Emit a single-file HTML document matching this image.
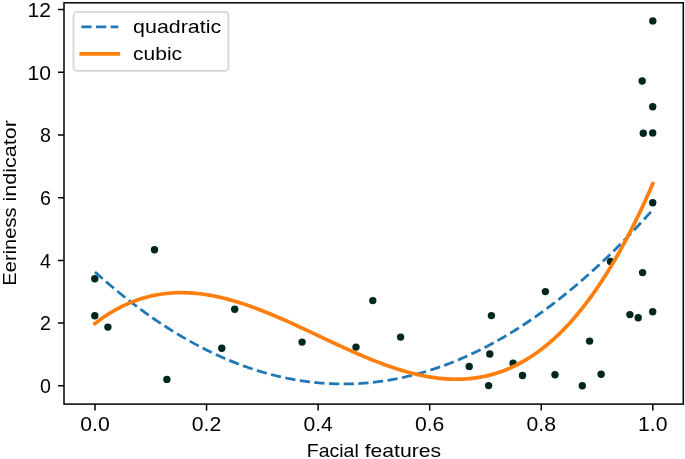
<!DOCTYPE html>
<html><head><meta charset="utf-8"><title>Eeriness vs facial features</title>
<style>html,body{margin:0;padding:0;background:#fff;}body{width:685px;height:459px;overflow:hidden;font-family:"Liberation Sans",sans-serif;}svg{display:block;will-change:transform;}</style>
</head><body>
<svg width="685" height="459" viewBox="0 0 685 459" font-family='"Liberation Sans", sans-serif' font-size="19.00" fill="#000"><g fill="#00271f"><circle cx="94.80" cy="278.80" r="3.70"/><circle cx="94.80" cy="315.70" r="3.70"/><circle cx="107.90" cy="327.10" r="3.70"/><circle cx="154.50" cy="249.70" r="3.70"/><circle cx="166.90" cy="379.40" r="3.70"/><circle cx="221.80" cy="348.20" r="3.70"/><circle cx="234.70" cy="309.20" r="3.70"/><circle cx="302.10" cy="342.10" r="3.70"/><circle cx="356.00" cy="347.10" r="3.70"/><circle cx="372.80" cy="300.60" r="3.70"/><circle cx="400.60" cy="337.10" r="3.70"/><circle cx="469.20" cy="366.40" r="3.70"/><circle cx="491.40" cy="315.60" r="3.70"/><circle cx="489.80" cy="354.00" r="3.70"/><circle cx="488.60" cy="385.60" r="3.70"/><circle cx="513.10" cy="363.20" r="3.70"/><circle cx="522.50" cy="375.50" r="3.70"/><circle cx="545.40" cy="291.60" r="3.70"/><circle cx="555.00" cy="374.80" r="3.70"/><circle cx="582.30" cy="385.70" r="3.70"/><circle cx="589.60" cy="341.10" r="3.70"/><circle cx="601.10" cy="374.20" r="3.70"/><circle cx="610.50" cy="261.50" r="3.70"/><circle cx="629.90" cy="314.60" r="3.70"/><circle cx="638.20" cy="317.80" r="3.70"/><circle cx="642.60" cy="272.60" r="3.70"/><circle cx="642.20" cy="81.00" r="3.70"/><circle cx="643.30" cy="133.30" r="3.70"/><circle cx="652.80" cy="20.90" r="3.70"/><circle cx="652.70" cy="106.70" r="3.70"/><circle cx="652.70" cy="132.90" r="3.70"/><circle cx="652.70" cy="202.80" r="3.70"/><circle cx="652.70" cy="311.80" r="3.70"/></g>
<path d="M95.00,271.92 L96.87,273.60 L98.73,275.26 L100.60,276.92 L102.46,278.56 L104.33,280.18 L106.19,281.80 L108.06,283.40 L109.92,284.99 L111.79,286.56 L113.66,288.13 L115.52,289.68 L117.39,291.22 L119.25,292.74 L121.12,294.26 L122.98,295.76 L124.85,297.25 L126.71,298.72 L128.58,300.18 L130.45,301.63 L132.31,303.07 L134.18,304.49 L136.04,305.91 L137.91,307.31 L139.77,308.69 L141.64,310.07 L143.50,311.43 L145.37,312.78 L147.24,314.11 L149.10,315.43 L150.97,316.75 L152.83,318.04 L154.70,319.33 L156.56,320.60 L158.43,321.86 L160.29,323.11 L162.16,324.34 L164.03,325.57 L165.89,326.77 L167.76,327.97 L169.62,329.16 L171.49,330.33 L173.35,331.49 L175.22,332.63 L177.08,333.77 L178.95,334.89 L180.82,335.99 L182.68,337.09 L184.55,338.17 L186.41,339.24 L188.28,340.30 L190.14,341.34 L192.01,342.38 L193.87,343.40 L195.74,344.40 L197.61,345.40 L199.47,346.38 L201.34,347.35 L203.20,348.30 L205.07,349.25 L206.93,350.18 L208.80,351.10 L210.66,352.00 L212.53,352.90 L214.40,353.78 L216.26,354.64 L218.13,355.50 L219.99,356.34 L221.86,357.17 L223.72,357.99 L225.59,358.79 L227.45,359.58 L229.32,360.36 L231.19,361.13 L233.05,361.88 L234.92,362.62 L236.78,363.35 L238.65,364.07 L240.51,364.77 L242.38,365.46 L244.24,366.14 L246.11,366.80 L247.98,367.46 L249.84,368.10 L251.71,368.72 L253.57,369.34 L255.44,369.94 L257.30,370.53 L259.17,371.11 L261.03,371.67 L262.90,372.22 L264.77,372.76 L266.63,373.29 L268.50,373.80 L270.36,374.30 L272.23,374.79 L274.09,375.26 L275.96,375.73 L277.82,376.18 L279.69,376.61 L281.56,377.04 L283.42,377.45 L285.29,377.85 L287.15,378.24 L289.02,378.61 L290.88,378.97 L292.75,379.32 L294.61,379.66 L296.48,379.98 L298.35,380.29 L300.21,380.59 L302.08,380.87 L303.94,381.15 L305.81,381.41 L307.67,381.65 L309.54,381.89 L311.40,382.11 L313.27,382.32 L315.14,382.52 L317.00,382.70 L318.87,382.87 L320.73,383.03 L322.60,383.18 L324.46,383.31 L326.33,383.43 L328.19,383.54 L330.06,383.64 L331.93,383.72 L333.79,383.79 L335.66,383.85 L337.52,383.89 L339.39,383.92 L341.25,383.94 L343.12,383.95 L344.98,383.94 L346.85,383.93 L348.72,383.89 L350.58,383.85 L352.45,383.79 L354.31,383.73 L356.18,383.64 L358.04,383.55 L359.91,383.44 L361.77,383.32 L363.64,383.19 L365.51,383.05 L367.37,382.89 L369.24,382.72 L371.10,382.54 L372.97,382.34 L374.83,382.13 L376.70,381.91 L378.56,381.68 L380.43,381.43 L382.29,381.17 L384.16,380.90 L386.03,380.62 L387.89,380.32 L389.76,380.01 L391.62,379.69 L393.49,379.35 L395.35,379.01 L397.22,378.65 L399.08,378.27 L400.95,377.89 L402.82,377.49 L404.68,377.08 L406.55,376.66 L408.41,376.22 L410.28,375.77 L412.14,375.31 L414.01,374.84 L415.87,374.35 L417.74,373.85 L419.61,373.34 L421.47,372.81 L423.34,372.28 L425.20,371.73 L427.07,371.16 L428.93,370.59 L430.80,370.00 L432.66,369.40 L434.53,368.79 L436.40,368.16 L438.26,367.52 L440.13,366.87 L441.99,366.21 L443.86,365.53 L445.72,364.84 L447.59,364.14 L449.45,363.43 L451.32,362.70 L453.19,361.96 L455.05,361.21 L456.92,360.44 L458.78,359.66 L460.65,358.87 L462.51,358.07 L464.38,357.25 L466.24,356.43 L468.11,355.58 L469.98,354.73 L471.84,353.86 L473.71,352.99 L475.57,352.09 L477.44,351.19 L479.30,350.27 L481.17,349.34 L483.03,348.40 L484.90,347.45 L486.77,346.48 L488.63,345.50 L490.50,344.51 L492.36,343.50 L494.23,342.48 L496.09,341.45 L497.96,340.41 L499.82,339.35 L501.69,338.28 L503.56,337.20 L505.42,336.11 L507.29,335.00 L509.15,333.88 L511.02,332.75 L512.88,331.60 L514.75,330.45 L516.61,329.28 L518.48,328.09 L520.35,326.90 L522.21,325.69 L524.08,324.47 L525.94,323.23 L527.81,321.99 L529.67,320.73 L531.54,319.46 L533.40,318.17 L535.27,316.88 L537.14,315.57 L539.00,314.25 L540.87,312.91 L542.73,311.56 L544.60,310.20 L546.46,308.83 L548.33,307.45 L550.19,306.05 L552.06,304.64 L553.93,303.22 L555.79,301.78 L557.66,300.33 L559.52,298.87 L561.39,297.40 L563.25,295.91 L565.12,294.41 L566.98,292.90 L568.85,291.37 L570.72,289.84 L572.58,288.29 L574.45,286.72 L576.31,285.15 L578.18,283.56 L580.04,281.96 L581.91,280.35 L583.77,278.72 L585.64,277.08 L587.51,275.43 L589.37,273.77 L591.24,272.09 L593.10,270.40 L594.97,268.70 L596.83,266.99 L598.70,265.26 L600.56,263.52 L602.43,261.77 L604.30,260.00 L606.16,258.23 L608.03,256.44 L609.89,254.63 L611.76,252.82 L613.62,250.99 L615.49,249.15 L617.35,247.29 L619.22,245.43 L621.09,243.55 L622.95,241.66 L624.82,239.75 L626.68,237.84 L628.55,235.91 L630.41,233.96 L632.28,232.01 L634.14,230.04 L636.01,228.06 L637.88,226.07 L639.74,224.06 L641.61,222.05 L643.47,220.01 L645.34,217.97 L647.20,215.92 L649.07,213.85 L650.93,211.77 L652.80,209.67" fill="none" stroke="#1f77b4" stroke-width="2.77" stroke-dasharray="10.25 4.44" stroke-linecap="butt"/>
<path d="M95.00,323.55 L96.87,322.12 L98.73,320.72 L100.60,319.37 L102.46,318.05 L104.33,316.77 L106.19,315.53 L108.06,314.32 L109.92,313.15 L111.79,312.02 L113.66,310.92 L115.52,309.86 L117.39,308.83 L119.25,307.84 L121.12,306.89 L122.98,305.96 L124.85,305.07 L126.71,304.22 L128.58,303.40 L130.45,302.61 L132.31,301.86 L134.18,301.13 L136.04,300.44 L137.91,299.78 L139.77,299.16 L141.64,298.56 L143.50,297.99 L145.37,297.46 L147.24,296.95 L149.10,296.48 L150.97,296.03 L152.83,295.61 L154.70,295.23 L156.56,294.87 L158.43,294.54 L160.29,294.23 L162.16,293.96 L164.03,293.71 L165.89,293.49 L167.76,293.29 L169.62,293.12 L171.49,292.98 L173.35,292.86 L175.22,292.77 L177.08,292.70 L178.95,292.66 L180.82,292.64 L182.68,292.65 L184.55,292.68 L186.41,292.73 L188.28,292.81 L190.14,292.91 L192.01,293.03 L193.87,293.17 L195.74,293.34 L197.61,293.52 L199.47,293.73 L201.34,293.96 L203.20,294.21 L205.07,294.47 L206.93,294.76 L208.80,295.07 L210.66,295.40 L212.53,295.74 L214.40,296.11 L216.26,296.49 L218.13,296.89 L219.99,297.30 L221.86,297.74 L223.72,298.19 L225.59,298.66 L227.45,299.14 L229.32,299.64 L231.19,300.16 L233.05,300.69 L234.92,301.23 L236.78,301.80 L238.65,302.37 L240.51,302.96 L242.38,303.56 L244.24,304.18 L246.11,304.80 L247.98,305.44 L249.84,306.10 L251.71,306.76 L253.57,307.44 L255.44,308.13 L257.30,308.83 L259.17,309.54 L261.03,310.26 L262.90,310.99 L264.77,311.73 L266.63,312.48 L268.50,313.24 L270.36,314.00 L272.23,314.78 L274.09,315.56 L275.96,316.35 L277.82,317.15 L279.69,317.96 L281.56,318.77 L283.42,319.59 L285.29,320.42 L287.15,321.25 L289.02,322.09 L290.88,322.93 L292.75,323.77 L294.61,324.63 L296.48,325.48 L298.35,326.34 L300.21,327.20 L302.08,328.07 L303.94,328.94 L305.81,329.81 L307.67,330.69 L309.54,331.56 L311.40,332.44 L313.27,333.32 L315.14,334.20 L317.00,335.08 L318.87,335.96 L320.73,336.84 L322.60,337.72 L324.46,338.60 L326.33,339.48 L328.19,340.36 L330.06,341.23 L331.93,342.11 L333.79,342.98 L335.66,343.85 L337.52,344.71 L339.39,345.58 L341.25,346.44 L343.12,347.29 L344.98,348.14 L346.85,348.99 L348.72,349.83 L350.58,350.67 L352.45,351.50 L354.31,352.32 L356.18,353.14 L358.04,353.96 L359.91,354.76 L361.77,355.56 L363.64,356.35 L365.51,357.14 L367.37,357.91 L369.24,358.68 L371.10,359.44 L372.97,360.18 L374.83,360.92 L376.70,361.65 L378.56,362.37 L380.43,363.08 L382.29,363.78 L384.16,364.47 L386.03,365.15 L387.89,365.81 L389.76,366.46 L391.62,367.10 L393.49,367.73 L395.35,368.35 L397.22,368.95 L399.08,369.53 L400.95,370.11 L402.82,370.67 L404.68,371.21 L406.55,371.74 L408.41,372.26 L410.28,372.76 L412.14,373.24 L414.01,373.71 L415.87,374.16 L417.74,374.59 L419.61,375.01 L421.47,375.41 L423.34,375.79 L425.20,376.15 L427.07,376.50 L428.93,376.82 L430.80,377.13 L432.66,377.42 L434.53,377.68 L436.40,377.93 L438.26,378.16 L440.13,378.36 L441.99,378.55 L443.86,378.71 L445.72,378.85 L447.59,378.97 L449.45,379.07 L451.32,379.15 L453.19,379.20 L455.05,379.23 L456.92,379.23 L458.78,379.21 L460.65,379.17 L462.51,379.10 L464.38,379.01 L466.24,378.89 L468.11,378.74 L469.98,378.57 L471.84,378.38 L473.71,378.16 L475.57,377.91 L477.44,377.63 L479.30,377.32 L481.17,376.99 L483.03,376.63 L484.90,376.24 L486.77,375.82 L488.63,375.38 L490.50,374.90 L492.36,374.39 L494.23,373.86 L496.09,373.29 L497.96,372.69 L499.82,372.06 L501.69,371.40 L503.56,370.71 L505.42,369.98 L507.29,369.23 L509.15,368.44 L511.02,367.61 L512.88,366.76 L514.75,365.87 L516.61,364.94 L518.48,363.99 L520.35,362.99 L522.21,361.97 L524.08,360.90 L525.94,359.80 L527.81,358.67 L529.67,357.50 L531.54,356.29 L533.40,355.04 L535.27,353.76 L537.14,352.44 L539.00,351.08 L540.87,349.69 L542.73,348.25 L544.60,346.78 L546.46,345.27 L548.33,343.72 L550.19,342.12 L552.06,340.49 L553.93,338.82 L555.79,337.11 L557.66,335.35 L559.52,333.55 L561.39,331.72 L563.25,329.84 L565.12,327.91 L566.98,325.95 L568.85,323.94 L570.72,321.89 L572.58,319.79 L574.45,317.65 L576.31,315.47 L578.18,313.24 L580.04,310.96 L581.91,308.64 L583.77,306.28 L585.64,303.87 L587.51,301.41 L589.37,298.90 L591.24,296.35 L593.10,293.75 L594.97,291.11 L596.83,288.41 L598.70,285.67 L600.56,282.88 L602.43,280.04 L604.30,277.15 L606.16,274.21 L608.03,271.22 L609.89,268.18 L611.76,265.09 L613.62,261.95 L615.49,258.76 L617.35,255.52 L619.22,252.22 L621.09,248.87 L622.95,245.47 L624.82,242.02 L626.68,238.51 L628.55,234.95 L630.41,231.34 L632.28,227.67 L634.14,223.95 L636.01,220.17 L637.88,216.34 L639.74,212.45 L641.61,208.51 L643.47,204.51 L645.34,200.46 L647.20,196.34 L649.07,192.17 L650.93,187.95 L652.80,183.66" fill="none" stroke="#ff7f0e" stroke-width="3.7" stroke-linecap="square" stroke-linejoin="round"/>
<rect x="64.00" y="2.80" width="619.30" height="401.30" fill="none" stroke="#000" stroke-width="1.50" stroke-linejoin="miter"/>
<path d="M95.00,404.10 V410.60 M206.56,404.10 V410.60 M318.12,404.10 V410.60 M429.68,404.10 V410.60 M541.24,404.10 V410.60 M652.80,404.10 V410.60 M64.00,385.80 H58.00 M64.00,323.10 H58.00 M64.00,260.40 H58.00 M64.00,197.70 H58.00 M64.00,135.00 H58.00 M64.00,72.30 H58.00 M64.00,9.60 H58.00" stroke="#000" stroke-width="1.50" fill="none"/>
<g font-size="19.6"><text x="95.00" y="431.00" text-anchor="middle" textLength="29.42" lengthAdjust="spacingAndGlyphs">0.0</text><text x="206.56" y="431.00" text-anchor="middle" textLength="29.42" lengthAdjust="spacingAndGlyphs">0.2</text><text x="318.12" y="431.00" text-anchor="middle" textLength="29.42" lengthAdjust="spacingAndGlyphs">0.4</text><text x="429.68" y="431.00" text-anchor="middle" textLength="29.42" lengthAdjust="spacingAndGlyphs">0.6</text><text x="541.24" y="431.00" text-anchor="middle" textLength="29.42" lengthAdjust="spacingAndGlyphs">0.8</text><text x="652.80" y="431.00" text-anchor="middle" textLength="29.42" lengthAdjust="spacingAndGlyphs">1.0</text><text x="51.00" y="393.00" text-anchor="end" textLength="10.90" lengthAdjust="spacingAndGlyphs">0</text><text x="51.00" y="330.30" text-anchor="end" textLength="10.90" lengthAdjust="spacingAndGlyphs">2</text><text x="51.00" y="267.60" text-anchor="end" textLength="10.90" lengthAdjust="spacingAndGlyphs">4</text><text x="51.00" y="204.90" text-anchor="end" textLength="10.90" lengthAdjust="spacingAndGlyphs">6</text><text x="51.00" y="142.20" text-anchor="end" textLength="10.90" lengthAdjust="spacingAndGlyphs">8</text><text x="51.00" y="79.50" text-anchor="end" textLength="23.54" lengthAdjust="spacingAndGlyphs">10</text><text x="51.00" y="16.80" text-anchor="end" textLength="23.54" lengthAdjust="spacingAndGlyphs">12</text></g>
<text x="306.71" y="456.70" text-anchor="start" textLength="52.07" lengthAdjust="spacingAndGlyphs">Facial</text><text x="364.66" y="456.70" text-anchor="start" textLength="76.43" lengthAdjust="spacingAndGlyphs">features</text>
<g transform="translate(16.0,202.9) rotate(-90)"><text x="-82.76" y="0.00" text-anchor="start" textLength="78.20" lengthAdjust="spacingAndGlyphs">Eeriness</text><text x="1.32" y="0.00" text-anchor="start" textLength="81.44" lengthAdjust="spacingAndGlyphs">indicator</text></g>
<rect x="73.50" y="11.80" width="154.90" height="59.10" rx="3.7" ry="3.7" fill="#fff" fill-opacity="0.8" stroke="#d6d6d6" stroke-width="1.85"/>
<path d="M81.3,26.9 H118.3" stroke="#1f77b4" stroke-width="2.77" stroke-dasharray="10.25 4.44" fill="none"/>
<path d="M81.3,53.85 H118.3" stroke="#ff7f0e" stroke-width="3.7" stroke-linecap="square" fill="none"/>
<text x="133.10" y="32.70" text-anchor="start" textLength="88.06" lengthAdjust="spacingAndGlyphs">quadratic</text>
<text x="133.10" y="59.80" text-anchor="start" textLength="48.95" lengthAdjust="spacingAndGlyphs">cubic</text></svg>
</body></html>
